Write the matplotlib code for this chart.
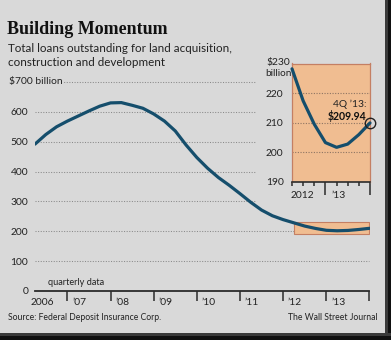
import matplotlib
matplotlib.use("Agg")
import matplotlib.pyplot as plt
from matplotlib.patches import Rectangle
import matplotlib.transforms as mtransforms

# ---------------- data ----------------
quarters = ["1Q06", "2Q06", "3Q06", "4Q06", "1Q07", "2Q07", "3Q07", "4Q07",
            "1Q08", "2Q08", "3Q08", "4Q08", "1Q09", "2Q09", "3Q09", "4Q09",
            "1Q10", "2Q10", "3Q10", "4Q10", "1Q11", "2Q11", "3Q11", "4Q11",
            "1Q12", "2Q12", "3Q12", "4Q12", "1Q13", "2Q13", "3Q13", "4Q13"]
loans = [492, 524, 550, 569, 586, 603, 619, 630,
         631, 622, 612, 593, 569, 536, 489, 447,
         411, 380, 354, 326, 297, 271, 252, 239,
         228.2, 217.4, 209.5, 203.3, 201.7, 202.8, 206.0, 209.94]
main_yticks = [0, 100, 200, 300, 400, 500, 600]
main_top = 700
year_ticks = [2007, 2008, 2009, 2010, 2011, 2012, 2013, 2014]
year_labels = ["2006", "\u201907", "\u201908", "\u201909", "\u201910", "\u201911", "\u201912", "\u201913"]
inset_start = "1Q12"
inset_ylim = (190, 230)
inset_yticks = [190, 200, 210, 220]
inset_year_labels = ["2012", "\u201913"]
last_label = "4Q \u201913:"
last_value_text = "$209.94"

# x position of each quarter (end of quarter, in years)
xq = [2000 + int(q[2:]) + int(q[0]) / 4 for q in quarters]
i0 = quarters.index(inset_start)

# ---------------- style ----------------
BG = "#d9d9d9"
LINE = "#154e6c"
ORANGE = "#f0bd91"
ORANGE_EDGE = "#c47f63"
DARK = "#2b2b2b"
GRID = "#8a8a8a"
SANS = ["Lato", "DejaVu Sans"]
W, H = 391, 340

fig = plt.figure(figsize=(W / 100, H / 100), dpi=100)
fig.patch.set_facecolor(BG)

def fx(px):
    return px / W

def fy(py):
    return 1 - py / H

# frame shadow (right & bottom)
fig.patches.append(Rectangle((fx(385), 0), fx(6), 1, transform=fig.transFigure,
                             facecolor="#3a3a3a", edgecolor="none", zorder=0))
fig.patches.append(Rectangle((fx(387.5), 0), fx(4), 1, transform=fig.transFigure,
                             facecolor="#111111", edgecolor="none", zorder=0))
fig.patches.append(Rectangle((0, 0), 1, 7 / H, transform=fig.transFigure,
                             facecolor="#3a3a3a", edgecolor="none", zorder=0))
fig.patches.append(Rectangle((0, 0), 1, 4.5 / H, transform=fig.transFigure,
                             facecolor="#111111", edgecolor="none", zorder=0))

# ---------------- main axes ----------------
ax = fig.add_axes([fx(35), fy(291), fx(369.5 - 35), (291 - 82) / H])
ax.set_facecolor("none")
ax.set_xlim(xq[0], xq[-1])
ax.set_ylim(0, main_top)
for s in ["top", "left", "right"]:
    ax.spines[s].set_visible(False)
ax.spines["bottom"].set_color(DARK)
ax.spines["bottom"].set_linewidth(1.3)
ax.set_xticks(year_ticks)
ax.set_xticklabels([])
ax.tick_params(axis="x", direction="out", length=7.5, width=1.1, color=DARK)
ax.set_yticks(main_yticks)
ax.set_yticklabels([str(v) for v in main_yticks], fontfamily=SANS, fontsize=7.4, color="#222")
ax.tick_params(axis="y", length=0, pad=4.8)

grid_short_end = 2011.35
for v in main_yticks[1:] + [main_top]:
    xe = xq[-1] if v <= 200 else grid_short_end
    ax.plot([xq[0], xe], [v, v], color=GRID, lw=0.75, ls=(0, (1, 1.5)), zorder=1, clip_on=False)

ax.text(-0.078, main_top, "$700 billion", transform=mtransforms.blended_transform_factory(ax.transAxes, ax.transData),
        ha="left", va="center", fontfamily=SANS, fontsize=7.4, color="#222", zorder=5,
        bbox=dict(facecolor=BG, edgecolor="none", pad=1.2))

ax.add_patch(Rectangle((xq[i0], inset_ylim[0]), xq[-1] - xq[i0], inset_ylim[1] - inset_ylim[0],
                       facecolor=ORANGE, edgecolor=ORANGE_EDGE, lw=0.8, zorder=2))
ax.plot(xq, loans, color=LINE, lw=2.3, solid_capstyle="round", solid_joinstyle="round", zorder=3)

# x labels
for j, lab in enumerate(year_labels):
    if j == 0:
        ax.annotate(lab, xy=(xq[0], 0), xytext=(-3, -8), textcoords="offset points",
                    ha="left", va="center", fontfamily=SANS, fontsize=7.4, color="#222")
    else:
        ax.annotate(lab, xy=(year_ticks[j - 1], 0), xytext=(3.4, -8), textcoords="offset points",
                    ha="left", va="center", fontfamily=SANS, fontsize=7.4, color="#222")

ax.annotate("quarterly data", xy=(xq[0], 0), xytext=(9.5, 5.8), textcoords="offset points",
            ha="left", va="center", fontfamily=SANS, fontsize=6.6, color="#222")

# ---------------- inset ----------------
ax2 = fig.add_axes([fx(292), fy(182), fx(370 - 292), (182 - 63.5) / H])
ax2.set_facecolor(ORANGE)
ax2.set_xlim(xq[i0], xq[-1])
ax2.set_ylim(*inset_ylim)
for s in ["top", "left", "right"]:
    ax2.spines[s].set_color(ORANGE_EDGE)
    ax2.spines[s].set_linewidth(0.9)
ax2.spines["bottom"].set_color(DARK)
ax2.spines["bottom"].set_linewidth(1.2)
ax2.set_xticks([2013, 2014])
ax2.set_xticks([x for x in xq[i0:] if x not in (2013, 2014)], minor=True)
ax2.set_xticklabels([])
ax2.tick_params(axis="x", which="major", direction="out", length=9.5, width=1.1, color=DARK)
ax2.tick_params(axis="x", which="minor", direction="out", length=3.2, width=1.1, color=DARK)
ax2.set_yticks(inset_yticks)
ax2.set_yticklabels([str(v) for v in inset_yticks], fontfamily=SANS, fontsize=7.4, color="#222")
ax2.tick_params(axis="y", length=0, pad=6)
for v in inset_yticks[1:]:
    ax2.axhline(v, color="#8d7462", lw=0.8, ls=(0, (1, 1.4)), zorder=1)

ax2.plot(xq[i0:], loans[i0:], color=LINE, lw=2.3, solid_capstyle="round",
         solid_joinstyle="round", zorder=3, clip_on=False)
ax2.plot([xq[-1]], [loans[-1]], "o", mfc="none", mec="#222", ms=7.5, mew=1.0, zorder=4, clip_on=False)

fig.text(fx(266), fy(62), "$230", ha="left", va="center", fontfamily=SANS, fontsize=7.4, color="#222")
fig.text(fx(265.5), fy(73.5), "billion", ha="left", va="center", fontfamily=SANS, fontsize=7.2, color="#222")
ax2.annotate(inset_year_labels[0], xy=(xq[i0], inset_ylim[0]), xytext=(-0.8, -10), textcoords="offset points",
             ha="left", va="center", fontfamily=SANS, fontsize=7.4, color="#222")
ax2.annotate(inset_year_labels[1], xy=(2013, inset_ylim[0]), xytext=(4.3, -10), textcoords="offset points",
             ha="left", va="center", fontfamily=SANS, fontsize=7.4, color="#222")
fig.text(fx(367), fy(104), last_label, ha="right", va="center", fontfamily=SANS, fontsize=7.4, color="#222")
fig.text(fx(366), fy(115.5), last_value_text, ha="right", va="center", fontfamily=SANS, fontsize=7.6,
         fontweight="bold", color="#111")

# ---------------- titles / notes ----------------
fig.text(fx(7), fy(33.5), "Building Momentum", ha="left", va="baseline",
         fontfamily=["Liberation Serif", "DejaVu Serif"], fontweight="bold", fontsize=13, color="#111")
fig.text(fx(8), fy(51.8), "Total loans outstanding for land acquisition,", ha="left", va="baseline",
         fontfamily=SANS, fontsize=8.4, color="#222")
fig.text(fx(8), fy(66), "construction and development", ha="left", va="baseline",
         fontfamily=SANS, fontsize=8.4, color="#222")
fig.text(fx(8), fy(318), "Source: Federal Deposit Insurance Corp.", ha="left", va="center",
         fontfamily=SANS, fontsize=6.2, color="#222")
fig.text(fx(378), fy(318), "The Wall Street Journal", ha="right", va="center",
         fontfamily=SANS, fontsize=6.2, color="#222")

fig.savefig("out.png", dpi=100, facecolor=fig.get_facecolor())
